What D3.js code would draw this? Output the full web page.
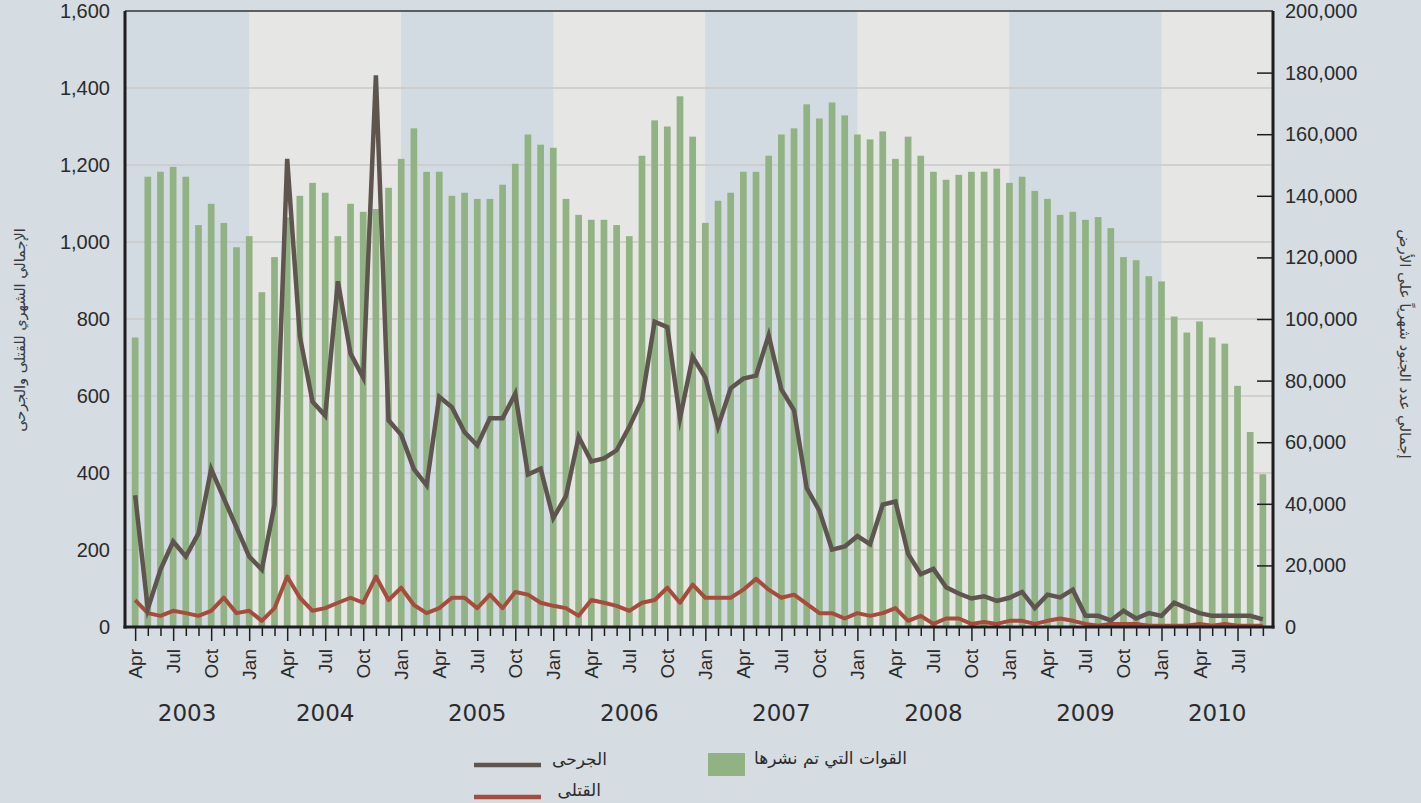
<!DOCTYPE html>
<html>
<head>
<meta charset="utf-8">
<script src="https://cdn.jsdelivr.net/npm/d3@7"></script>
<style>
  body { margin: 0; background: #d5dce2; }
  svg { display: block; font-family: "DejaVu Sans", sans-serif; }
  .axis path { display: none; }
  .axis text { fill: #2b2b2b; }
</style>
</head>
<body>
<svg id="chart"></svg>
<script>
// Monthly troops on the ground, wounded and killed, Apr 2003 - Sep 2010
const startYear = 2003;
const startMonth = 3; // April (0-based)
const monthNames = ["Jan", "Feb", "Mar", "Apr", "May", "Jun", "Jul", "Aug", "Sep", "Oct", "Nov", "Dec"];
const labelledMonths = ["Jan", "Apr", "Jul", "Oct"];
const years = [2003, 2004, 2005, 2006, 2007, 2008, 2009, 2010];

const troops = [
  94000, 146200, 147800, 149400, 146200, 130500, 137400, 131200, 123300,
  126900, 108700, 120100, 133000, 140000, 144200, 141000, 126900, 137400, 134800, 135700, 142600,
  152000, 161900, 147800, 147800, 140000, 141000, 139000, 139000, 143600, 150400, 159900, 156600,
  155600, 139000, 133800, 132200, 132200, 130500, 126900, 153000, 164500, 162500, 172300, 159200,
  131200, 138400, 141000, 147800, 147800, 153000, 159900, 161900, 169700, 165100, 170300, 166100,
  159900, 158300, 160900, 152000, 159200, 153000, 147800, 145200, 146800, 147800, 147800, 148800,
  144200, 146200, 141600, 139000, 133800, 134800, 132200, 133100, 129500, 120100, 119100, 113900,
  112200, 100800, 95600, 99200, 94000, 92000, 78300, 63300, 49600
];

const wounded = [
  342, 47, 149, 222, 183, 243, 410, 334, 259,
  183, 149, 318, 1216, 755, 585, 549, 898, 710, 648, 1433, 537,
  499, 410, 368, 598, 571, 506, 472, 542, 542, 606, 396, 411,
  283, 340, 494, 430, 438, 459, 520, 590, 793, 779, 542, 702,
  648, 520, 620, 645, 653, 758, 617, 563, 361, 302, 201, 209,
  236, 215, 318, 326, 190, 137, 151, 103, 87, 74, 80, 68,
  76, 91, 49, 84, 77, 97, 29, 29, 17, 42, 22, 36,
  29, 63, 49, 36, 29, 29, 29, 29, 20
];

const killed = [
  70, 36, 29, 42, 36, 29, 42, 76, 36,
  42, 16, 49, 131, 76, 42, 49, 63, 76, 63, 131, 70,
  102, 57, 36, 49, 76, 76, 49, 84, 49, 91, 84, 63,
  55, 49, 29, 70, 63, 55, 42, 63, 70, 102, 63, 110,
  76, 76, 76, 97, 125, 97, 76, 84, 60, 36, 36, 22,
  36, 29, 36, 49, 16, 29, 8, 22, 22, 8, 13, 8,
  16, 16, 8, 16, 22, 16, 8, 3, 8, 8, 8, 3,
  3, 3, 3, 8, 3, 8, 3, 3, 3
];

const leftTicks = [0, 200, 400, 600, 800, 1000, 1200, 1400, 1600];
const rightTicks = [0, 20000, 40000, 60000, 80000, 100000, 120000, 140000, 160000, 180000, 200000];

const leftTitle = "الإجمالي الشهري للقتلى والجرحى";
const rightTitle = "إجمالي عدد الجنود شهرياً على الأرض";
const legendWounded = "الجرحى";
const legendKilled = "القتلى";
const legendTroops = "القوات التي تم نشرها";

let config = {
  'svg': {},
  'plot': {},
  'colors': {}
};

config.svg.width = 1421;
config.svg.height = 803;

config.plot.x = 125;
config.plot.y = 11;
config.plot.width = 1273 - 125;
config.plot.height = 627 - 11;

config.colors.bandA = "#d3dbe2";
config.colors.bandB = "#e6e6e4";
config.colors.bar = "#91b283";
config.colors.wounded = "#5e554f";
config.colors.killed = "#a64c3d";
config.colors.grid = "#c9c9c9";
config.colors.axis = "#1e1e1e";

// build the month categories
let months = [];
for (let i = 0; i < troops.length; i++) {
  let m = (startMonth + i) % 12;
  let y = startYear + Math.floor((startMonth + i) / 12);
  months.push({ index: i, year: y, month: monthNames[m] });
}

let svg = d3.select("svg#chart")
  .attr('width', config.svg.width)
  .attr('height', config.svg.height);

svg.append("rect")
  .attr("width", config.svg.width)
  .attr("height", config.svg.height)
  .attr("fill", "#d5dce2");

let plot = svg.append('g')
  .attr('id', 'plot')
  .attr('transform', translate(config.plot.x, config.plot.y));

let scale = {};

scale.x = d3.scalePoint()
  .domain(months.map(d => d.index))
  .range([0, config.plot.width])
  .padding(0.8);

scale.left = d3.scaleLinear()
  .domain([0, 1600])
  .range([config.plot.height, 0]);

scale.right = d3.scaleLinear()
  .domain([0, 200000])
  .range([config.plot.height, 0]);

// year bands
let bands = years.map(function(year, i) {
  let first = months.find(d => d.year == year && d.month == "Jan");
  let next = months.find(d => d.year == year + 1 && d.month == "Jan");
  let x0 = first ? scale.x(first.index) : 0;
  let x1 = next ? scale.x(next.index) : config.plot.width;
  return { year: year, x0: x0, x1: x1, fill: i % 2 == 0 ? config.colors.bandA : config.colors.bandB };
});

plot.append("g").attr("id", "bands")
  .selectAll("rect")
  .data(bands)
  .enter()
  .append("rect")
  .attr("x", d => d.x0)
  .attr("y", 0)
  .attr("width", d => d.x1 - d.x0)
  .attr("height", config.plot.height)
  .attr("fill", d => d.fill);

// grid lines
plot.append("g").attr("id", "grid")
  .selectAll("line")
  .data(leftTicks.filter(d => d > 0 && d < 1600))
  .enter()
  .append("line")
  .attr("x1", 0)
  .attr("x2", config.plot.width)
  .attr("y1", d => scale.left(d))
  .attr("y2", d => scale.left(d))
  .attr("stroke", config.colors.grid)
  .attr("stroke-width", 1.5);

// troop bars
let barWidth = 6.7;
plot.append("g").attr("id", "bars")
  .selectAll("rect")
  .data(troops)
  .enter()
  .append("rect")
  .attr("x", (d, i) => scale.x(i) - barWidth / 2)
  .attr("y", d => scale.right(d))
  .attr("width", barWidth)
  .attr("height", d => config.plot.height - scale.right(d))
  .attr("fill", config.colors.bar);

// lines
let line = d3.line()
  .x((d, i) => scale.x(i))
  .y(d => scale.left(d));

plot.append("path")
  .datum(killed)
  .attr("d", line)
  .attr("fill", "none")
  .attr("stroke", config.colors.killed)
  .attr("stroke-width", 4)
  .attr("stroke-linejoin", "round");

plot.append("path")
  .datum(wounded)
  .attr("d", line)
  .attr("fill", "none")
  .attr("stroke", config.colors.wounded)
  .attr("stroke-width", 4.5)
  .attr("stroke-linejoin", "miter")
  .attr("stroke-miterlimit", 6);

// axes
let axis = {};

axis.left = d3.axisLeft(scale.left)
  .tickValues(leftTicks)
  .tickFormat(d3.format(","))
  .tickSize(0)
  .tickPadding(15);

axis.right = d3.axisRight(scale.right)
  .tickValues(rightTicks)
  .tickFormat(d3.format(","))
  .tickSize(-16)
  .tickPadding(12);

axis.x = d3.axisBottom(scale.x)
  .tickSize(8)
  .tickPadding(6)
  .tickFormat(i => labelledMonths.includes(months[i].month) ? months[i].month : "");

let gl = svg.append("g")
  .attr("class", "axis")
  .attr("transform", translate(config.plot.x, config.plot.y))
  .call(axis.left);
gl.selectAll("text").attr("font-size", "20px");

let gr = svg.append("g")
  .attr("class", "axis")
  .attr("transform", translate(config.plot.x + config.plot.width, config.plot.y))
  .call(axis.right);
gr.selectAll("text").attr("font-size", "20px").attr("x", 12);
gr.selectAll(".tick line")
  .filter(d => d > 0 && d < 200000)
  .attr("stroke", config.colors.axis)
  .attr("stroke-width", 1.5);
gr.selectAll(".tick line").filter(d => d == 0 || d == 200000).remove();

let gx = svg.append("g")
  .attr("class", "axis")
  .attr("transform", translate(config.plot.x, config.plot.y + config.plot.height))
  .call(axis.x);
gx.selectAll(".tick line")
  .attr("stroke", config.colors.axis)
  .attr("stroke-width", 1.5)
  .attr("y2", i => labelledMonths.includes(months[i].month) ? 14 : 9);
gx.selectAll("text")
  .attr("font-size", "19px")
  .attr("text-anchor", "end")
  .attr("dominant-baseline", "central")
  .attr("transform", "rotate(-90)")
  .attr("x", -22)
  .attr("y", 0)
  .attr("dy", null);

// year labels
svg.append("g").attr("id", "years")
  .selectAll("text")
  .data(bands)
  .enter()
  .append("text")
  .attr("x", d => config.plot.x + (d.x0 + d.x1) / 2)
  .attr("y", 721)
  .attr("text-anchor", "middle")
  .attr("font-size", "23px")
  .attr("fill", "#2b2b2b")
  .text(d => d.year);

// frame
let frame = svg.append("g").attr("id", "frame");
frame.append("line")
  .attr("x1", config.plot.x).attr("x2", config.plot.x + config.plot.width)
  .attr("y1", config.plot.y).attr("y2", config.plot.y)
  .attr("stroke", "#333").attr("stroke-width", 1.5);
frame.append("line")
  .attr("x1", config.plot.x).attr("x2", config.plot.x)
  .attr("y1", config.plot.y).attr("y2", config.plot.y + config.plot.height + 1.5)
  .attr("stroke", config.colors.axis).attr("stroke-width", 3);
frame.append("line")
  .attr("x1", config.plot.x + config.plot.width).attr("x2", config.plot.x + config.plot.width)
  .attr("y1", config.plot.y).attr("y2", config.plot.y + config.plot.height + 1.5)
  .attr("stroke", config.colors.axis).attr("stroke-width", 3);
frame.append("line")
  .attr("x1", config.plot.x - 1.5).attr("x2", config.plot.x + config.plot.width + 1.5)
  .attr("y1", config.plot.y + config.plot.height).attr("y2", config.plot.y + config.plot.height)
  .attr("stroke", config.colors.axis).attr("stroke-width", 3);

// axis titles
svg.append("text")
  .attr("transform", translate(20, 330) + " rotate(-90)")
  .attr("text-anchor", "middle")
  .attr("dominant-baseline", "central")
  .attr("font-size", "14.5px")
  .attr("fill", "#3a3a3a")
  .text(leftTitle);

svg.append("text")
  .attr("transform", translate(1405, 344) + " rotate(90)")
  .attr("text-anchor", "middle")
  .attr("dominant-baseline", "central")
  .attr("font-size", "15px")
  .attr("fill", "#3a3a3a")
  .text(rightTitle);

// legend
let legend = svg.append("g").attr("id", "legend");
legend.append("line")
  .attr("x1", 474).attr("x2", 541).attr("y1", 765).attr("y2", 765)
  .attr("stroke", config.colors.wounded).attr("stroke-width", 4.5);
legend.append("line")
  .attr("x1", 474).attr("x2", 541).attr("y1", 797).attr("y2", 797)
  .attr("stroke", config.colors.killed).attr("stroke-width", 4.5);
legend.append("rect")
  .attr("x", 708).attr("y", 753).attr("width", 37).attr("height", 23)
  .attr("fill", config.colors.bar);

let legendText = [
  { text: legendWounded, x: 607, y: 759 },
  { text: legendKilled, x: 601, y: 790 },
  { text: legendTroops, x: 907, y: 758 }
];
legend.selectAll("text.label")
  .data(legendText)
  .enter()
  .append("text")
  .attr("class", "label")
  .attr("x", d => d.x)
  .attr("y", d => d.y)
  .attr("text-anchor", "end")
  .attr("dominant-baseline", "central")
  .attr("font-size", "17px")
  .attr("fill", "#2b2b2b")
  .text(d => d.text);

function translate(x, y) {
  return 'translate(' + x + ',' + y + ')';
}
</script>
</body>
</html>
